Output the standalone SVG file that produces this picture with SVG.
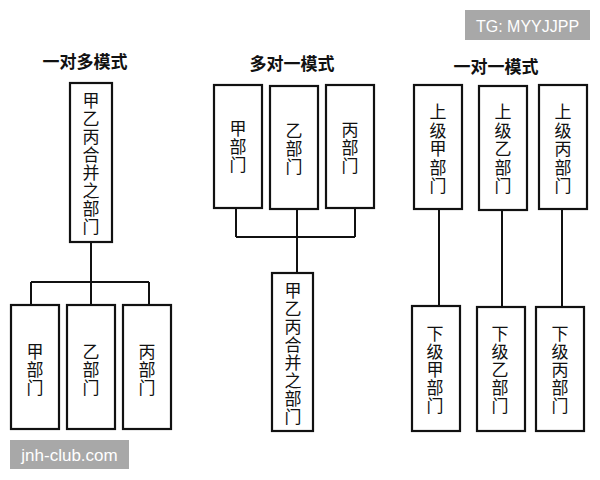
<svg xmlns="http://www.w3.org/2000/svg" width="600" height="480" viewBox="0 0 600 480">
<style>
.box{fill:#fff;stroke:#111;stroke-width:2.2}
.ln{fill:none;stroke:#111;stroke-width:2}
.t{font-family:"Noto Sans CJK SC","Noto Sans CJK JP",sans-serif;font-size:17px;fill:#111;text-anchor:middle;dominant-baseline:central}
.title{font-family:"Noto Sans CJK SC","Noto Sans CJK JP",sans-serif;font-size:17px;font-weight:bold;fill:#111;text-anchor:middle;dominant-baseline:central}
.wm{fill:#a8a8a8}
.wt{font-family:"Liberation Sans",Arial,sans-serif;fill:#fff;text-anchor:middle}
</style>
<rect width="600" height="480" fill="#fff"/>
<text class="title" x="85" y="60">一对多模式</text>
<text class="title" x="292" y="62">多对一模式</text>
<text class="title" x="496" y="65">一对一模式</text>
<g id="connectors">
<path class="ln" d="M91 242V282M31 282H149M31 282V305M91 282V305M149 282V305"/>
<path class="ln" d="M236 208V237M297 209V237M355 208V237M236 237H355M297 237V273"/>
<path class="ln" d="M439 209V306M502 210V307M562 209V307"/>
</g>
<g id="n-left-top"><rect class="box" x="70" y="83" width="42" height="159"/>
<text class="t" x="91"><tspan x="91" y="99">甲</tspan><tspan x="91" y="117">乙</tspan><tspan x="91" y="135">丙</tspan><tspan x="91" y="153">合</tspan><tspan x="91" y="171">并</tspan><tspan x="91" y="189">之</tspan><tspan x="91" y="207">部</tspan><tspan x="91" y="225">门</tspan></text></g>
<g id="n-left-a"><rect class="box" x="11" y="305" width="48" height="124"/>
<text class="t"><tspan x="35" y="350">甲</tspan><tspan x="35" y="368">部</tspan><tspan x="35" y="386">门</tspan></text></g>
<g id="n-left-b"><rect class="box" x="67" y="305" width="48" height="124"/>
<text class="t"><tspan x="91" y="350">乙</tspan><tspan x="91" y="368">部</tspan><tspan x="91" y="386">门</tspan></text></g>
<g id="n-left-c"><rect class="box" x="123" y="305" width="48" height="124"/>
<text class="t"><tspan x="147" y="350">丙</tspan><tspan x="147" y="368">部</tspan><tspan x="147" y="386">门</tspan></text></g>
<g id="n-mid-a"><rect class="box" x="214" y="85" width="48" height="123"/>
<text class="t"><tspan x="238" y="127">甲</tspan><tspan x="238" y="145">部</tspan><tspan x="238" y="163">门</tspan></text></g>
<g id="n-mid-b"><rect class="box" x="270" y="86" width="48" height="123"/>
<text class="t"><tspan x="294" y="129">乙</tspan><tspan x="294" y="147">部</tspan><tspan x="294" y="165">门</tspan></text></g>
<g id="n-mid-c"><rect class="box" x="326" y="85" width="48" height="123"/>
<text class="t"><tspan x="350" y="128">丙</tspan><tspan x="350" y="146">部</tspan><tspan x="350" y="164">门</tspan></text></g>
<g id="n-mid-bottom"><rect class="box" x="272" y="273" width="41" height="158"/>
<text class="t"><tspan x="293" y="289">甲</tspan><tspan x="293" y="307">乙</tspan><tspan x="293" y="325">丙</tspan><tspan x="293" y="343">合</tspan><tspan x="293" y="361">并</tspan><tspan x="293" y="379">之</tspan><tspan x="293" y="397">部</tspan><tspan x="293" y="415">门</tspan></text></g>
<g id="n-r-up-a"><rect class="box" x="414" y="85" width="48" height="124"/>
<text class="t"><tspan x="438" y="110">上</tspan><tspan x="438" y="128.5">级</tspan><tspan x="438" y="147">甲</tspan><tspan x="438" y="165.5">部</tspan><tspan x="438" y="184">门</tspan></text></g>
<g id="n-r-up-b"><rect class="box" x="479" y="86" width="48" height="124"/>
<text class="t"><tspan x="503" y="110">上</tspan><tspan x="503" y="128.5">级</tspan><tspan x="503" y="147">乙</tspan><tspan x="503" y="165.5">部</tspan><tspan x="503" y="184">门</tspan></text></g>
<g id="n-r-up-c"><rect class="box" x="539" y="85" width="48" height="124"/>
<text class="t"><tspan x="563" y="110">上</tspan><tspan x="563" y="128.5">级</tspan><tspan x="563" y="147">丙</tspan><tspan x="563" y="165.5">部</tspan><tspan x="563" y="184">门</tspan></text></g>
<g id="n-r-low-a"><rect class="box" x="412" y="306" width="48" height="125"/>
<text class="t"><tspan x="435" y="332">下</tspan><tspan x="435" y="350">级</tspan><tspan x="435" y="368">甲</tspan><tspan x="435" y="386">部</tspan><tspan x="435" y="404">门</tspan></text></g>
<g id="n-r-low-b"><rect class="box" x="477" y="307" width="48" height="124"/>
<text class="t"><tspan x="500" y="332">下</tspan><tspan x="500" y="350">级</tspan><tspan x="500" y="368">乙</tspan><tspan x="500" y="386">部</tspan><tspan x="500" y="404">门</tspan></text></g>
<g id="n-r-low-c"><rect class="box" x="536" y="307" width="48" height="124"/>
<text class="t"><tspan x="560" y="332">下</tspan><tspan x="560" y="350">级</tspan><tspan x="560" y="368">丙</tspan><tspan x="560" y="386">部</tspan><tspan x="560" y="404">门</tspan></text></g>
<g id="wm1"><rect class="wm" x="10" y="440" width="119" height="29"/>
<text class="wt" x="69.5" y="461" font-size="17">jnh-club.com</text></g>
<g id="wm2"><rect class="wm" x="465" y="10" width="125" height="30"/>
<text class="wt" x="527.5" y="31.5" font-size="16">TG: MYYJJPP</text></g>
</svg>
